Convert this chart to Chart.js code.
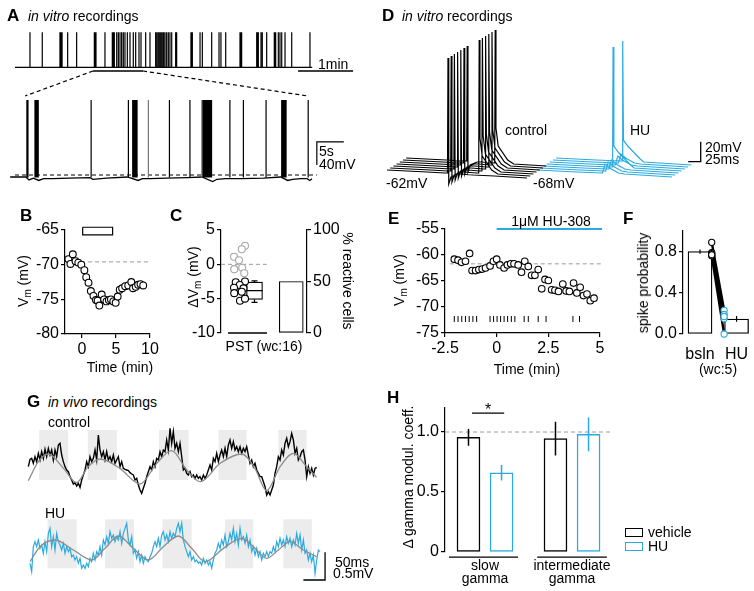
<!DOCTYPE html>
<html>
<head>
<meta charset="utf-8">
<title>HU-308 figure</title>
<script src="https://cdn.jsdelivr.net/npm/chart.js@4.4.1/dist/chart.umd.min.js"></script>
<style>
  body { margin: 0; background: #fff; }
  #fig { position: relative; width: 754px; height: 591px; overflow: hidden; font-family: Arial, "Liberation Sans", Helvetica, sans-serif; }
  #fig canvas { position: absolute; }
  .t { position: absolute; font-size: 14px; line-height: 1.15; white-space: nowrap; color: #000; }
  .t sub { font-size: 10px; vertical-align: -3px; line-height: 0; }
  .box { position: absolute; box-sizing: border-box; background: #fff; }
</style>
</head>
<body>
<div id="fig"></div>
<script>
// ---------- values ----------

// A: spike times of the whole recording (s), the zoomed stretch and its trace
const aTopSpikes = [14.2, 27.6, 46.9, 47.4, 48.7, 49.2, 55.3, 65.1, 84.4, 85.0, 85.5, 86.2, 96, 104, 105.1, 106.2, 108.8,
  110.6, 112.4, 114.2, 116, 117.8, 120.4, 123.3, 126.9, 129.5, 133.1, 135.3, 140.4, 145.1, 151.3, 152.7, 154.2,
  155.7, 157.1, 158.5, 160, 161.5, 163.3, 165.1, 166.9, 168.8, 173.1, 174.2, 189.8, 190.5, 191.3, 199.7, 202.2,
  212.4, 220.4, 222.5, 227.7, 243.3, 244.2, 245.1, 261.5, 262.4, 263.3, 266.2, 267.6, 272.4, 280.7, 281.5, 282.2,
  285.1, 286.9, 288.8, 292.4, 299.7, 319.6];
const aZoomFrom = [83, 137.5];     // window on the top raster (s)
const aZoomTo = [84.9, 137.1];     // where it lands on the lower trace (s)
const aBotSpikes = [85.2, 85.4, 86.7, 86.85, 87.0, 87.15, 87.3, 97.1, 104.0, 104.8, 105.0, 105.2, 105.4, 105.6,
  111.6, 115.4, 117.8, 118.0, 118.2, 118.4, 118.6, 118.8, 119.0, 119.2, 119.4, 122.8, 125.3, 129.5,
  132.4, 132.6, 132.8, 133.0, 133.2, 137.3];
const aBotGrey = [107.7, 117.6];
const aSpikePeak = 72;             // mV
const aBaseT = [82.1, 85.0, 85.6, 86.4, 87.4, 88.3, 90, 93, 96.9, 97.4, 100, 103.8, 105.8, 106.6, 108, 111, 115,
  117.6, 119.6, 120.4, 122, 125, 129, 132.2, 133.5, 134.4, 136, 137.1, 137.6, 138];
const aBaseV = [-62, -62, -67, -64, -68, -65, -65, -64, -63, -66, -64, -62, -68, -65, -65, -64, -63,
  -62, -70, -66, -65, -65, -64, -62, -68, -66, -65, -65, -68, -65];
const aThreshold = -58.5;

// B: Vm over time (min)
const bTime = [-2.0, -1.7, -1.35, -0.95, -0.55, -0.1, 0.35, 0.62, 0.96, 1.3, 1.68, 2.05, 2.3, 2.55, 2.9, 3.25,
  3.6, 3.95, 4.25, 4.6, 4.95, 5.25, 5.55, 5.9, 6.35, 6.8, 7.25, 7.5, 7.9, 8.25, 8.6, 9.0];
const bVm = [-69.2, -69.9, -68.5, -69.5, -69.7, -70.0, -70.8, -71.8, -72.6, -73.8, -74.5, -75.1, -75.2, -75.9, -74.3, -75.0,
  -75.3, -75.1, -75.0, -75.3, -75.5, -74.6, -73.6, -73.4, -73.1, -73.0, -72.5, -73.4, -73.2, -72.9, -72.8, -73.0];
const bBaseline = -69.6;
const bDrug = [0.1, 4.5];

// C: change of Vm per cell (grey: non reactive, black: reactive) and % reactive
const cGreyX = [1.16, 1.03, 0.72, 0.92, 0.73, 1.05, 1.13];
const cGreyY = [2.7, 2.2, 1.1, 0.6, -0.7, -0.5, -1.3];
const cBlackX = [0.79, 1.16, 0.95, 0.72, 1.1, 0.73, 1.03, 0.96, 1.16];
const cBlackY = [-2.6, -2.5, -3.0, -3.4, -3.5, -4.2, -4.0, -5.3, -5.0];
const cBox = { lo: -5.55, q1: -5.1, med: -3.84, q3: -2.6, hi: -2.4 };
const cReactive = 50;

// D: sweeps with spikes (1) or without (0)
const dCtrlSpike1 = [1, 1, 1, 1, 1, 1, 1];
const dCtrlSpike2 = [0, 1, 1, 1, 1, 1, 1];
const dHUSpike = [0, 0, 0, 1, 0, 0, 1];
const dCtrlBase = [[0, 0], [80, -2], [115, -3], [150, -4], [172, -5], [215, -6], [280, -8]];
const dHUBase = [[0, 0], [80, -2], [128, -3], [175, -4], [270, -7]];
const dSpike1 = [[-1, -3], [0, 112], [1.5, -14], [6, -7], [20, -4]];
const dSpike2 = [[-1, -5], [0, 128], [1.5, 30], [6, 12], [25, -2]];
const dHUSpk = [[-1, -3], [0, 117], [1.5, 18], [10, 12], [35, -1]];
const dHUEpsp = [[-2, -3], [3, 6], [12, 2], [30, -3]];

// E: Vm over time (min), spike raster
const eTime = [-2.05, -1.87, -1.70, -1.51, -1.31, -1.19, -1.02, -0.86, -0.70, -0.54, -0.32, -0.16, 0, 0.16, 0.36,
  0.52, 0.68, 0.84, 1.04, 1.2, 1.36, 1.53, 1.69, 1.85, 2.01, 2.18, 2.34, 2.5, 2.66, 2.82, 2.99, 3.2, 3.36, 3.52,
  3.72, 3.88, 4.04, 4.2, 4.37, 4.53, 4.71];
const eVm = [-60.8, -61.0, -61.4, -61.2, -59.7, -63.0, -63.0, -62.8, -62.7, -62.5, -62.1, -61.2, -60.8, -61.9, -62.5,
  -61.9, -61.7, -61.7, -61.9, -63.3, -61.2, -62.2, -63.9, -63.9, -62.8, -66.5, -64.7, -64.9, -66.7, -66.8, -67.0,
  -65.6, -66.9, -67.0, -65.4, -67.3, -66.2, -67.8, -67.5, -68.8, -68.3];
const eSpikes = [-2.05, -1.87, -1.69, -1.51, -1.33, -1.15, -0.97, -0.32, -0.15, 0.02, 0.19, 0.36, 0.53, 0.71, 0.88,
  1.33, 1.53, 2.01, 2.39, 3.69, 4.01];
const eBaseline = -61.7;
const eDrug = [0, 5.1];

// F: spike probability, baseline vs HU (wc:5)
const fLabels = ['bsln', 'HU'];
const fMean = [0.80, 0.146];
const fSem = [0.02, 0.028];
const fBsln = [0.89, 0.79, 0.78, 0.76, 0.77];
const fHU = [0.23, 0.19, 0.15, 0.0, 0.17];

// G: in vivo LFP, sampled every 3.84 ms (µV), with theta fit and gamma windows (ms)
const gDt = 3.84;
const gCtrl = [120, 252, 270, 180, 300, 210, 360, 240, 390, 270,
  432, 300, 450, 330, 420, 240, 420, 300, 510, 540,
  330, 210, 120, 60, 30, -60, -120, -192, -168, -228,
  -180, -252, -120, -30, 60, 210, 120, 300, 210, 270,
  420, 240, 690, 420, 300, 390, 240, 390, 240, 300,
  210, 330, 180, 240, 300, 120, 210, 90, 72, 60,
  48, 12, -12, -30, -120, -90, -210, -300, -360, -270,
  -180, -60, 30, 120, 60, 210, 120, 270, 240, 390,
  300, 420, 390, 600, 420, 810, 540, 750, 450, 540,
  390, 540, 300, 60, 90, 0, -30, 30, -60, -30,
  -90, -30, -90, -60, -120, -30, -90, -30, 60, 150,
  60, 270, 210, 360, 210, 330, 420, 300, 450, 300,
  510, 600, 450, 570, 420, 480, 390, 480, 360, 450,
  390, 480, 330, 180, 240, 120, 180, 60, 0, -60,
  -60, -150, -240, -390, -330, -390, -300, -210, 0, 120,
  300, 240, 420, 330, 540, 630, 480, 570, 720, 600,
  360, 450, 240, 300, 390, 420, 240, -60, 120, 0,
  90, -30, 90, 108];
const gHU = [-180, -330, 120, 210, 120, 240, 90, 150, 0, 210,
  30, 360, 450, 120, 300, 60, 360, 210, 150, 60,
  180, 0, 120, 30, 90, -60, -30, -120, -60, -180,
  -90, -270, -210, -270, -180, -240, -90, -150, 0, -120,
  30, -30, 120, -30, 240, 150, 300, 180, 390, 270,
  330, 210, 300, 240, 390, 180, 360, 450, 540, 240,
  150, 300, 0, 60, -90, 30, -150, -30, -180, -60,
  -120, -150, -60, 0, 120, 210, 120, 270, 120, 330,
  390, 240, 330, 210, 390, 270, 360, 300, 450, 540,
  390, 540, 240, 120, 30, -60, 30, -120, -60, -150,
  -120, -180, -150, -210, -90, -180, -120, -210, -150, -270,
  -120, 0, 60, 180, 90, 240, 150, 330, 120, 210,
  360, 240, 450, 210, 360, 150, 450, 240, 300, 180,
  330, 120, 240, 30, 120, -30, 90, -60, 30, -120,
  0, -60, 30, -60, 30, 0, 120, 30, 210, 120,
  270, 150, 240, 120, 300, 180, 270, 120, 240, 150,
  360, 180, 330, 60, 240, 0, 60, -120, 0, -150,
  -30, -360, -120, 60, 30];
const gHUStart = 3.84;
const gCtrlFitT = [0, 23, 46, 81, 111, 138, 165, 211, 257, 296, 330, 365, 396, 442, 492, 522, 549, 580, 611, 641, 664];
const gCtrlFitV = [-132, 210, 348, 90, -168, 120, 258, 90, -192, 180, 408, 60, -150, 180, 348, 90, -312, 120, 360, 120, -72];
const gHUFitT = [3.8, 26.9, 61.4, 103.7, 145.9, 176.6, 207.4, 241.9, 276.5, 311, 345.6, 376.3, 407, 449.3, 491.5,
  522.2, 549.1, 576, 602.9, 633.6, 664.3];
const gHUFitV = [-150, 120, 240, 60, -120, 90, 312, 90, -120, 120, 312, 90, -150, 90, 270, 90, -90, 60, 210, 60, -60];
const gCtrlWin = [[25, 92], [137, 204], [301, 369], [438, 503], [576, 641]];
const gHUWin = [[44.5, 111.4], [176.6, 243.5], [308.7, 376.3], [453, 518], [587.5, 652.8]];

// H: change of gamma modulation coefficient
const hVehicle = [0.955, 0.945];
const hVehErr = [0.07, 0.14];
const hHU = [0.66, 0.98];
const hHUErr = [0.065, 0.14];

// ---------- helpers ----------
const BLUE = '#29abe2';
const GREY = '#9a9a9a';
const TICK = 16;
const fig = document.getElementById('fig');
Chart.defaults.font.family = 'Arial, "Liberation Sans", Helvetica, sans-serif';
Chart.defaults.font.size = 14;
Chart.defaults.color = '#000';

function place(x, y, w, h) {
  const c = document.createElement('canvas');
  c.width = w; c.height = h;
  c.style.left = x + 'px'; c.style.top = y + 'px';
  c.style.width = w + 'px'; c.style.height = h + 'px';
  fig.appendChild(c);
  return c;
}

function chart(box, datasets, scales, padding, plugins, pluginOpts) {
  return new Chart(place(...box), {
    type: 'line',
    data: { datasets },
    options: {
      responsive: false, animation: false, devicePixelRatio: 1, events: [],
      layout: { autoPadding: false, padding: Object.assign({ top: 0, right: 0, bottom: 0, left: 0 }, padding) },
      scales,
      plugins: Object.assign({ legend: { display: false }, tooltip: { enabled: false } }, pluginOpts || {})
    },
    plugins: plugins || []
  });
}

const hidden = (min, max) => ({ type: 'linear', display: false, offset: false, min, max });

function axis(pos, min, max, ticks, size, fmt) {
  const vertical = pos === 'left' || pos === 'right';
  return {
    type: 'linear', position: pos, min, max, offset: false,
    afterFit(s) { if (vertical) s.width = size; else s.height = size; },
    afterBuildTicks(s) { s.ticks = ticks.map(v => ({ value: v })); },
    ticks: { padding: 2, autoSkip: false, maxRotation: 0, font: { size: TICK }, color: '#000', callback: fmt || (v => String(v)) },
    grid: { display: true, drawOnChartArea: false, drawTicks: true, tickLength: 4, color: '#000', lineWidth: 1.2, offset: false },
    border: { display: true, color: '#000', width: 1.2 }
  };
}

const pts = (xs, ys) => xs.map((x, i) => ({ x, y: ys[i] }));

function segments(list) {
  const out = [];
  list.forEach((pl, i) => {
    if (i) out.push({ x: pl[0][0], y: null });
    pl.forEach(p => out.push({ x: p[0], y: p[1] }));
  });
  return out;
}

function line(data, color, width, extra) {
  return Object.assign({ type: 'line', data, borderColor: color, borderWidth: width, pointRadius: 0,
    fill: false, tension: 0, spanGaps: false, clip: false, order: 1 }, extra || {});
}

function dots(data, color, r, extra) {
  return Object.assign({ type: 'scatter', data, showLine: false, pointRadius: r, pointBorderColor: color,
    pointBackgroundColor: '#fff', pointBorderWidth: 1.1, clip: false, order: 0 }, extra || {});
}

function bars(data, color, thick, extra) {
  return Object.assign({ type: 'bar', data, borderColor: color, backgroundColor: '#fff', borderWidth: 1.4,
    borderSkipped: false, barThickness: thick, grouped: false, clip: false, order: 2 }, extra || {});
}

function txt(html, x, y, o) {
  o = o || {};
  const d = document.createElement('div');
  d.className = 't';
  d.innerHTML = html;
  d.style.left = x + 'px'; d.style.top = y + 'px';
  if (o.size) d.style.fontSize = o.size + 'px';
  if (o.bold) d.style.fontWeight = 'bold';
  const ax = o.align === 'c' || o.rot ? '-50%' : '0';
  d.style.transform = 'translate(' + ax + ',-50%)' + (o.rot ? ' rotate(' + o.rot + 'deg)' : '');
  fig.appendChild(d);
}

function legendBox(x, y, color) {
  const b = document.createElement('div');
  b.className = 'box';
  Object.assign(b.style, { left: x + 'px', top: y + 'px', width: '18px', height: '9px', border: '1.5px solid ' + color });
  fig.appendChild(b);
}

// ---------- A ----------
const connectors = {
  id: 'connectors',
  afterDatasetsDraw(ch, args, o) {
    const s = ch.scales, ctx = ch.ctx;
    ctx.save();
    ctx.strokeStyle = '#000'; ctx.lineWidth = 1.2; ctx.setLineDash([4, 3]);
    o.from.forEach((t, i) => {
      ctx.beginPath();
      ctx.moveTo(s.xTop.getPixelForValue(t), s.yTop.getPixelForValue(o.yFrom));
      ctx.lineTo(s.xBot.getPixelForValue(o.to[i]), s.yBot.getPixelForValue(o.yTo));
      ctx.stroke();
    });
    ctx.restore();
  }
};
const aTop = { xAxisID: 'xTop', yAxisID: 'yTop' };
const aBot = { xAxisID: 'xBot', yAxisID: 'yBot' };
chart([0, 25, 380, 170], [
  line(segments(aTopSpikes.map(t => [[t, 0], [t, 1]])), '#000', 1.2, aTop),
  line(segments([[[-2.2, 0], [322, 0]]]), '#000', 1.2, aTop),
  line(segments([[[aZoomFrom[0], -0.106], [aZoomFrom[1], -0.106]]]), '#000', 1.5, aTop),
  line(segments([[[306.6, -0.106], [306.6 + 60, -0.106]]]), '#000', 1.3, aTop),
  line(segments(aBotSpikes.map(t => [[t, -63], [t, aSpikePeak]])), '#000', 1.2, aBot),
  line(segments(aBotGrey.map(t => [[t, -63], [t, aSpikePeak]])), '#777', 1.2, aBot),
  line(pts(aBaseT, aBaseV), '#000', 1.3, aBot),
  line(segments([[[83, aThreshold], [138.9, aThreshold]]]), '#000', 1.1, Object.assign({ borderDash: [4, 3] }, aBot)),
  line(segments([[[138.9 + 5, -1], [138.9, -1], [138.9, -41]]]), '#000', 1.2, aBot)
], {
  xTop: hidden(-18.5, 396), yTop: hidden(-3.649, 1.209),
  xBot: hidden(80.22, 150.6), yBot: hidden(-93.3, 202.3)
}, {}, [connectors], { connectors: { from: aZoomFrom, to: aZoomTo, yFrom: -0.106, yTo: 79 } });

// ---------- B ----------
chart([0, 218, 165, 144], [
  dots(pts(bTime, bVm), '#000', 3.4),
  line(segments([[[bDrug[0], -64.6], [bDrug[1], -64.6], [bDrug[1], -65.7], [bDrug[0], -65.7], [bDrug[0], -64.6]]]), '#000', 1.2),
  line(segments([[[-2.2, bBaseline], [10, bBaseline]]]), GREY, 1, { borderDash: [4, 3], order: 3 })
], {
  x: axis('bottom', -2.5, 10, [0, 5, 10], 28),
  y: axis('left', -80, -65, [-80, -75, -70, -65], 65)
}, { top: 12, right: 15 });

// ---------- C ----------
chart([165, 218, 190, 144], [
  dots(pts(cBlackX, cBlackY), '#000', 3.5),
  dots(pts(cGreyX, cGreyY), '#a8a8a8', 3.5),
  line(segments([
    [[1.22, cBox.med], [1.86, cBox.med]],
    [[1.54, cBox.q3], [1.54, cBox.hi]], [[1.42, cBox.hi], [1.66, cBox.hi]],
    [[1.54, cBox.q1], [1.54, cBox.lo]], [[1.42, cBox.lo], [1.66, cBox.lo]]
  ]), '#000', 1.2, { order: 1 }),
  bars([{ x: 1.54, y: [cBox.q1, cBox.q3] }], '#000', 16, { borderWidth: 1.2 }),
  bars([{ x: 3.01, y: cReactive }], '#000', 24, { yAxisID: 'yR', borderWidth: 1.2 }),
  line(segments([[[0.2, 0], [2.03, 0]]]), GREY, 1, { borderDash: [4, 3], order: 3 }),
  line(segments([[[0.48, -10], [2.04, -10]]]), '#000', 1.3)
], {
  x: hidden(0.2, 3.64),
  y: axis('left', -10, 5, [-10, -5, 0, 5], 56),
  yR: axis('right', 0, 100, [0, 50, 100], 48)
}, { top: 12, bottom: 29 });

// ---------- D ----------
function sweep(base, events, x0, y0) {
  const p = base.slice();
  events.forEach(([t, shape]) => shape.forEach(([dt, v]) => p.push([t + dt, v])));
  p.sort((a, b) => a[0] - b[0]);
  return p.map(([t, v]) => [x0 + t, y0 + v]);
}
const dCtrl = [], dHU = [];
dCtrlSpike1.forEach((s1, i) => {
  const ev = [];
  if (s1) ev.push([122, dSpike1]);
  if (dCtrlSpike2[i]) ev.push([178, dSpike2]);
  dCtrl.push(sweep(dCtrlBase, ev, 14 + i * 6.4, i * 2));
});
dHUSpike.forEach((s, i) => {
  dHU.push(sweep(dHUBase, [[133, s ? dHUSpk : dHUEpsp]], 314 + i * 6.4, i * 2));
});
chart([380, 25, 374, 170], [
  line(segments(dCtrl), '#000', 1.2),
  line(segments(dHU), BLUE, 1.2),
  line(segments([[[616.4, 8.3], [641.4, 8.3], [641.4, 28.3]]]), '#000', 1.3)
], { x: hidden(0, 748), y: hidden(-25, 145) }, {});

// ---------- E ----------
chart([380, 217, 235, 145], [
  dots(pts(eTime, eVm), '#000', 3.3),
  dots(eSpikes.map(t => ({ x: t, y: -72.3 })), '#000', 3, { pointStyle: 'line', rotation: 90, pointBorderWidth: 1 }),
  line(segments([[[eDrug[0], -55], [eDrug[1], -55]]]), BLUE, 2),
  line(segments([[[-2.27, eBaseline], [5.06, eBaseline]]]), GREY, 1, { borderDash: [4, 3], order: 3 })
], {
  x: axis('bottom', -2.5, 5, [-2.5, 0, 2.5, 5], 29),
  y: axis('left', -75, -55, [-75, -70, -65, -60, -55], 65)
}, { top: 12, right: 15 });

// ---------- F ----------
chart([615, 218, 139, 144], [
  dots(fHU.map(v => ({ x: 1.66, y: v })), BLUE, 3.1),
  dots(fBsln.map(v => ({ x: 1.32, y: v })), '#000', 3.1),
  line(segments(fBsln.map((v, i) => [[1.32, v], [1.66, fHU[i]]])), '#000', 2.4),
  line(segments(fMean.map((m, i) => [[i + 1, m - fSem[i]], [i + 1, m + fSem[i]]])), '#000', 1.2),
  bars(fMean.map((m, i) => ({ x: i + 1, y: m })), '#000', 24, { borderWidth: 1.3 })
], {
  x: {
    type: 'linear', min: 0.534, max: 2.45, offset: false,
    afterFit(s) { s.height = 28; },
    afterBuildTicks(s) { s.ticks = fLabels.map((l, i) => ({ value: i + 1 })); },
    ticks: { padding: 3, autoSkip: false, maxRotation: 0, font: { size: TICK }, callback: (v, i) => fLabels[i] },
    grid: { display: false }, border: { display: false }
  },
  y: axis('left', 0, 1.0, [0, 0.4, 0.8], 68, v => v.toFixed(1))
}, { top: 13, right: 1 });

// ---------- G ----------
const windows = {
  id: 'windows',
  beforeDatasetsDraw(ch, args, o) {
    const { ctx, scales: { x, y } } = ch;
    ctx.save();
    ctx.fillStyle = '#ececec';
    o.spans.forEach(([a, b]) => {
      const x0 = x.getPixelForValue(a), x1 = x.getPixelForValue(b);
      const y0 = y.getPixelForValue(o.top), y1 = y.getPixelForValue(o.bottom);
      ctx.fillRect(x0, y0, x1 - x0, y1 - y0);
    });
    ctx.restore();
  }
};
chart([20, 420, 320, 90], [
  line(pts(gCtrlFitT, gCtrlFitV), '#8c8c8c', 1.3, { cubicInterpolationMode: 'monotone', order: 0 }),
  line(gCtrl.map((v, i) => ({ x: i * gDt, y: v })), '#000', 1.4)
], { x: hidden(-19.2, 718), y: hidden(-660, 960) }, {}, [windows],
  { windows: { spans: gCtrlWin, top: 780, bottom: -120 } });

chart([20, 510, 320, 80], [
  line(pts(gHUFitT, gHUFitV), '#8c8c8c', 1.3, { cubicInterpolationMode: 'monotone', order: 0 }),
  line(gHU.map((v, i) => ({ x: gHUStart + i * gDt, y: v })), BLUE, 1.2),
  line(segments([[[633.6, -480], [683.6, -480], [683.6, 20]]]), '#000', 1.3)
], { x: hidden(-19.2, 718), y: hidden(-660, 780) }, {}, [windows],
  { windows: { spans: gHUWin, top: 612, bottom: -270 } });

// ---------- H ----------
const hCenter = [1, 2];
const hOff = 0.19;
chart([380, 396, 240, 195], [
  line(segments(hVehicle.map((m, i) => [[hCenter[i] - hOff, m - hVehErr[i]], [hCenter[i] - hOff, m + hVehErr[i]]])), '#000', 1.5),
  line(segments(hHU.map((m, i) => [[hCenter[i] + hOff, m - hHUErr[i]], [hCenter[i] + hOff, m + hHUErr[i]]])), BLUE, 1.5),
  bars(hVehicle.map((m, i) => ({ x: hCenter[i] - hOff, y: m })), '#000', 23, { borderWidth: 1.5 }),
  bars(hHU.map((m, i) => ({ x: hCenter[i] + hOff, y: m })), BLUE, 23, { borderWidth: 1.5 }),
  line(segments([[[0.54, 1], [2.437, 1]]]), GREY, 1, { borderDash: [4, 3], order: 3 }),
  line(segments([[[0.85, 1.158], [1.22, 1.158]]]), '#000', 1.3),
  line(segments([[[0.586, -0.042], [1.38, -0.042]], [[1.6, -0.042], [2.40, -0.042]]]), '#000', 1.3)
], {
  x: hidden(0.54, 2.494),
  y: axis('left', 0, 1.2, [0, 0.5, 1.0], 65, v => (v === 0 ? '0' : v.toFixed(1)))
}, { top: 12, bottom: 39, right: 5 });

// ---------- text ----------
txt('A', 7, 16, { size: 17, bold: true });
txt('<i>in vitro</i> recordings', 28, 16);
txt('1min', 318, 64);
txt('5s', 319, 151);
txt('40mV', 319, 164);

txt('B', 20, 216, { size: 17, bold: true });
txt('V<sub>m</sub> (mV)', 23, 281, { rot: -90 });
txt('Time (min)', 120, 367, { align: 'c' });

txt('C', 170, 216, { size: 17, bold: true });
txt('ΔV<sub>m</sub> (mV)', 193, 277, { rot: -90 });
txt('% reactive cells', 348, 281, { rot: 90 });
txt('PST (wc:16)', 264, 346, { align: 'c' });

txt('D', 382, 16, { size: 17, bold: true });
txt('<i>in vitro</i> recordings', 402, 16);
txt('control', 505, 130);
txt('HU', 630, 130);
txt('-62mV', 386, 183);
txt('-68mV', 533, 183);
txt('20mV', 705, 147);
txt('25ms', 705, 159);

txt('E', 388, 219, { size: 17, bold: true });
txt('V<sub>m</sub> (mV)', 399, 280, { rot: -90 });
txt('1μM HU-308', 551, 221, { align: 'c' });
txt('Time (min)', 527, 369, { align: 'c' });

txt('F', 623, 219, { size: 17, bold: true });
txt('spike probability', 643, 283, { rot: -90 });
txt('(wc:5)', 718, 369, { align: 'c' });

txt('G', 27, 402, { size: 17, bold: true });
txt('<i>in vivo</i> recordings', 48, 402);
txt('control', 48, 422);
txt('HU', 45, 513);
txt('50ms', 335, 562);
txt('0.5mV', 333, 573);

txt('H', 387, 398, { size: 17, bold: true });
txt('Δ gamma modul. coeff.', 408, 477, { rot: -90 });
txt('*', 488, 410, { align: 'c', size: 16 });
txt('slow', 485, 565, { align: 'c' });
txt('gamma', 485, 578, { align: 'c' });
txt('intermediate', 572, 565, { align: 'c' });
txt('gamma', 572, 578, { align: 'c' });
legendBox(625, 528, '#000');
legendBox(625, 542, BLUE);
txt('vehicle', 648, 532);
txt('HU', 648, 546);
</script>
</body>
</html>
